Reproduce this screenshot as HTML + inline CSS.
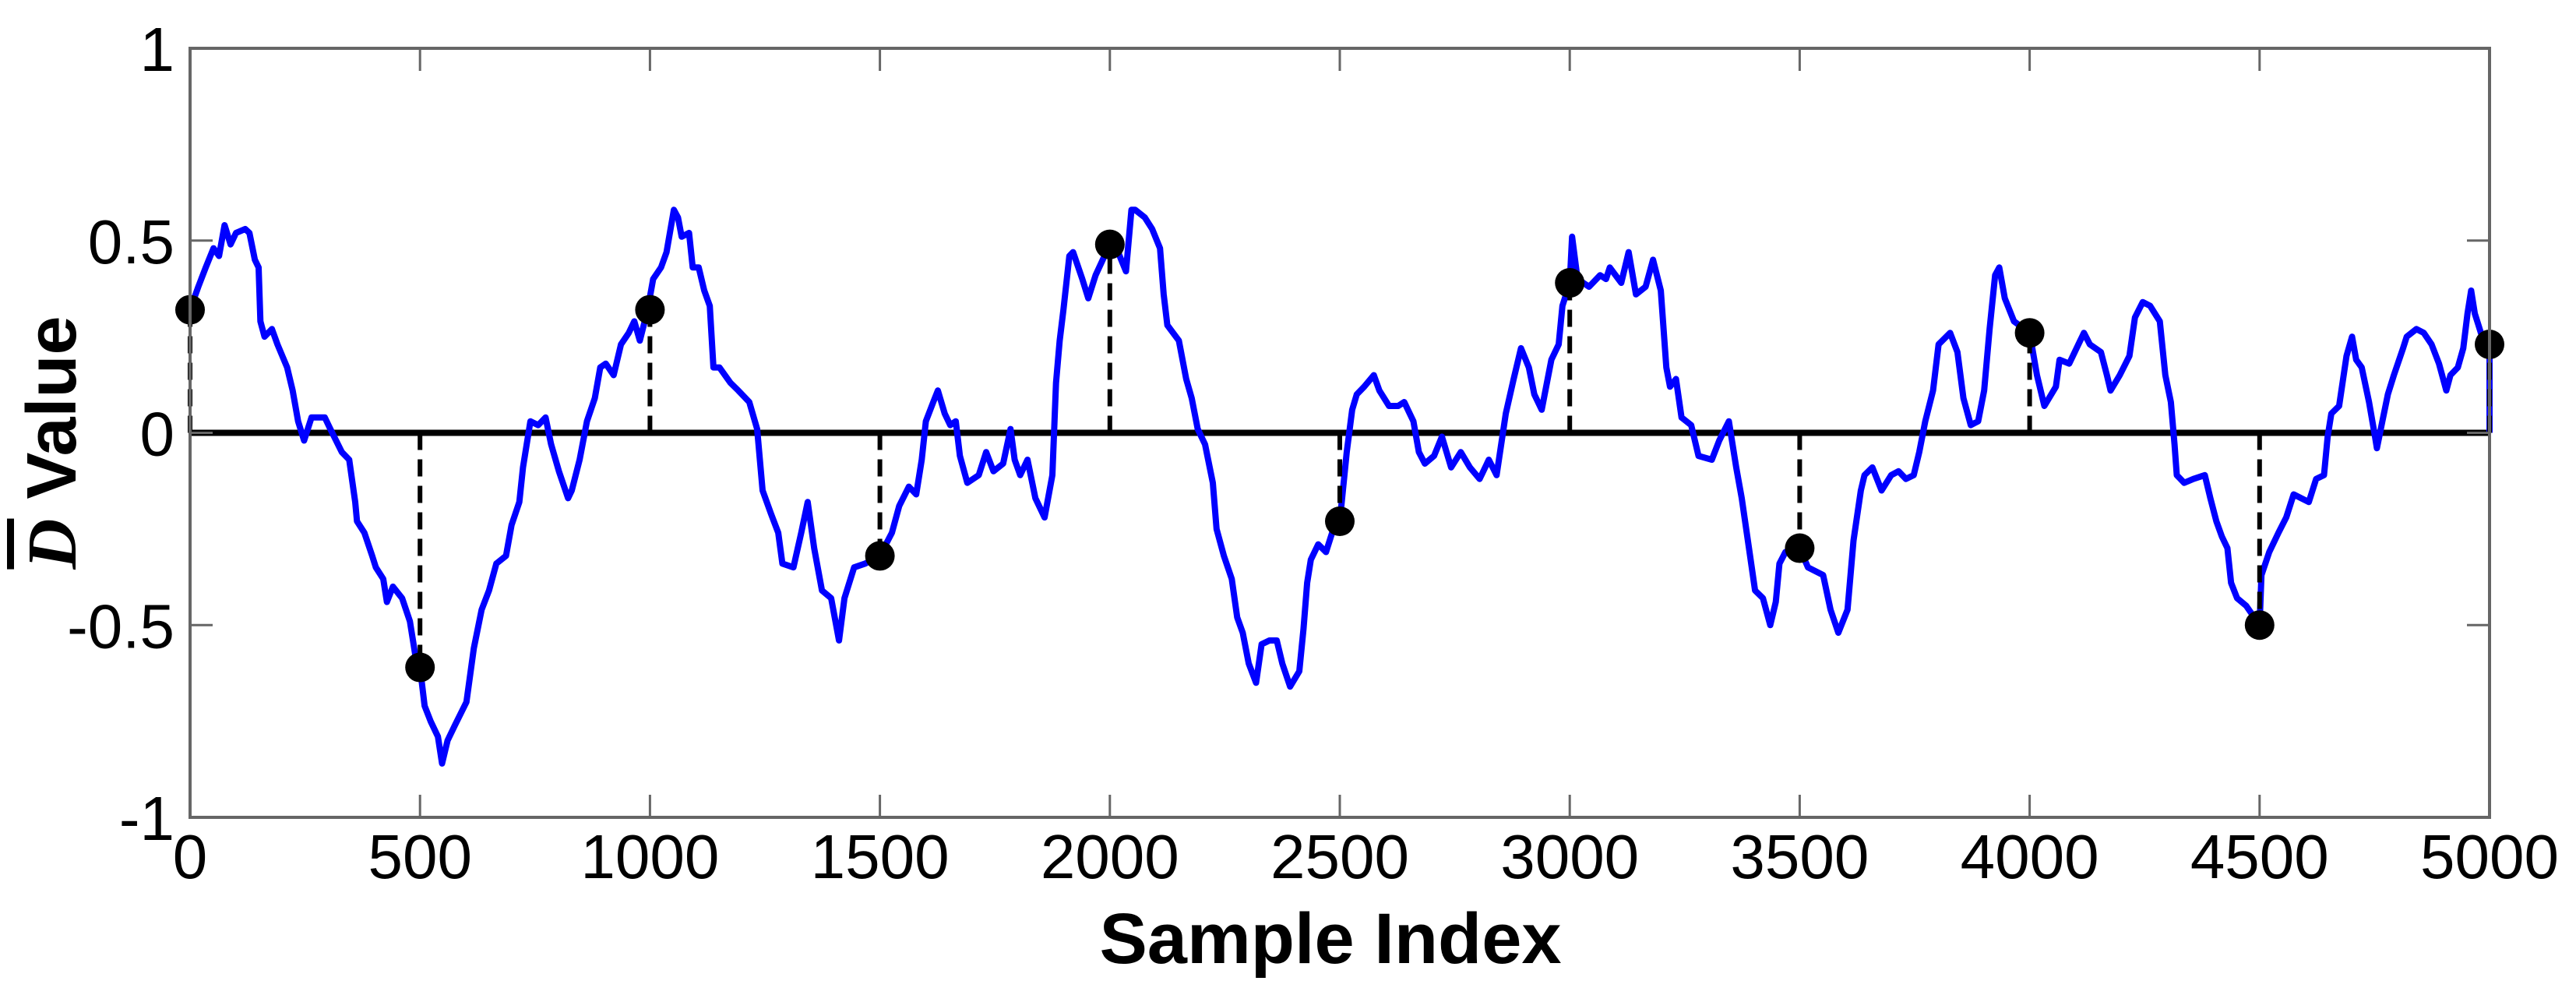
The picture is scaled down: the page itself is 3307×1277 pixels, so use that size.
<!DOCTYPE html>
<html><head><meta charset="utf-8"><style>
html,body{margin:0;padding:0;background:#fff;}
svg{display:block;}
</style></head><body>
<svg id="chart" width="3307" height="1277" viewBox="0 0 3307 1277" xmlns="http://www.w3.org/2000/svg" font-family="Liberation Sans, Arial, sans-serif">
<rect width="3307" height="1277" fill="#fff"/>
<g id="marks"></g>
<rect x="244" y="62" width="2952" height="987" fill="none" stroke="#666" stroke-width="4"/>
<g id="ticks"></g>
<text x="1708" y="1236" font-size="92" font-weight="bold" text-anchor="middle">Sample Index</text>
<text transform="translate(97,568) rotate(-90)" font-size="90" font-weight="bold" text-anchor="middle"><tspan font-family="Liberation Serif, serif" font-style="italic" text-decoration="overline">D</tspan> Value</text>
</svg>
<script>
const sampleIdx = [0,18,34,51,63,75,88,100,120,129,141,149,153,162,178,190,211,223,235,248,264,293,305,330,346,359,363,379,396,404,420,428,441,461,478,490,500,510,523,539,548,560,576,601,617,634,650,666,687,699,716,724,740,757,773,785,802,822,830,847,863,880,892,904,921,937,954,966,978,995,1007,1024,1036,1052,1061,1069,1085,1093,1106,1118,1130,1138,1151,1175,1192,1216,1233,1245,1263,1279,1288,1312,1329,1343,1357,1374,1394,1411,1423,1444,1468,1500,1526,1542,1563,1579,1591,1600,1616,1626,1641,1653,1665,1674,1690,1715,1731,1747,1768,1784,1793,1805,1821,1838,1858,1875,1883,1891,1899,1912,1920,1940,1953,1969,2000,2018,2035,2047,2055,2076,2092,2109,2117,2125,2150,2166,2178,2191,2207,2224,2232,2248,2265,2277,2289,2302,2318,2330,2347,2363,2375,2392,2412,2421,2429,2437,2453,2470,2486,2500,2515,2527,2537,2553,2574,2586,2607,2627,2640,2660,2672,2685,2705,2722,2742,2763,2783,2804,2824,2841,2861,2878,2894,2911,2923,2939,2960,2976,2984,3000,3005,3017,3042,3066,3079,3087,3112,3128,3144,3165,3181,3198,3210,3218,3231,3243,3264,3280,3309,3325,3346,3362,3374,3391,3403,3420,3436,3448,3456,3469,3500,3518,3551,3567,3584,3604,3617,3633,3641,3658,3678,3699,3715,3731,3748,3760,3773,3790,3802,3827,3843,3856,3872,3888,3901,3913,3925,3934,3946,3966,4000,4016,4032,4057,4065,4086,4106,4118,4131,4155,4168,4176,4196,4217,4229,4246,4262,4283,4295,4307,4315,4320,4336,4356,4381,4393,4406,4418,4430,4438,4451,4471,4500,4504,4521,4541,4558,4574,4607,4623,4640,4648,4656,4673,4689,4701,4710,4722,4738,4751,4755,4767,4779,4792,4812,4820,4841,4857,4874,4890,4906,4915,4931,4943,4952,4960,4968,4976,4989,5000,5000];
const dValues = [0.32,0.38,0.43,0.48,0.46,0.54,0.49,0.52,0.53,0.52,0.45,0.43,0.29,0.25,0.27,0.23,0.17,0.11,0.03,-0.02,0.04,0.04,0.01,-0.05,-0.07,-0.18,-0.23,-0.26,-0.32,-0.35,-0.38,-0.44,-0.40,-0.43,-0.49,-0.58,-0.61,-0.71,-0.75,-0.79,-0.86,-0.80,-0.76,-0.70,-0.56,-0.46,-0.41,-0.34,-0.32,-0.24,-0.18,-0.09,0.03,0.02,0.04,-0.03,-0.10,-0.17,-0.15,-0.07,0.03,0.09,0.17,0.18,0.15,0.23,0.26,0.29,0.24,0.32,0.40,0.43,0.47,0.58,0.56,0.51,0.52,0.43,0.43,0.37,0.33,0.17,0.17,0.13,0.11,0.08,0.01,-0.15,-0.21,-0.26,-0.34,-0.35,-0.26,-0.18,-0.30,-0.41,-0.43,-0.54,-0.43,-0.35,-0.34,-0.32,-0.26,-0.19,-0.14,-0.16,-0.07,0.03,0.08,0.11,0.05,0.02,0.03,-0.06,-0.13,-0.11,-0.05,-0.10,-0.08,0.01,-0.07,-0.11,-0.07,-0.17,-0.22,-0.11,0.13,0.24,0.32,0.46,0.47,0.40,0.35,0.41,0.49,0.47,0.42,0.58,0.58,0.56,0.53,0.48,0.36,0.28,0.24,0.14,0.09,0.01,-0.03,-0.13,-0.25,-0.32,-0.38,-0.48,-0.52,-0.60,-0.65,-0.55,-0.54,-0.54,-0.60,-0.66,-0.62,-0.51,-0.39,-0.33,-0.29,-0.31,-0.25,-0.23,-0.05,0.06,0.10,0.12,0.15,0.11,0.07,0.07,0.08,0.03,-0.05,-0.08,-0.06,-0.01,-0.09,-0.05,-0.09,-0.12,-0.07,-0.11,0.05,0.14,0.22,0.17,0.10,0.06,0.19,0.23,0.33,0.39,0.51,0.40,0.38,0.41,0.40,0.43,0.39,0.47,0.36,0.38,0.45,0.37,0.17,0.12,0.14,0.04,0.02,-0.06,-0.07,-0.02,0.03,-0.09,-0.17,-0.31,-0.41,-0.43,-0.50,-0.44,-0.34,-0.31,-0.30,-0.35,-0.37,-0.46,-0.52,-0.46,-0.28,-0.15,-0.11,-0.09,-0.15,-0.11,-0.10,-0.12,-0.11,-0.05,0.03,0.11,0.23,0.26,0.21,0.09,0.02,0.03,0.11,0.27,0.41,0.43,0.35,0.29,0.26,0.15,0.07,0.12,0.19,0.18,0.23,0.26,0.23,0.21,0.15,0.11,0.15,0.20,0.30,0.34,0.33,0.29,0.15,0.08,-0.03,-0.11,-0.13,-0.12,-0.11,-0.17,-0.23,-0.27,-0.30,-0.39,-0.43,-0.45,-0.50,-0.37,-0.31,-0.26,-0.22,-0.16,-0.18,-0.12,-0.11,-0.01,0.05,0.07,0.20,0.25,0.19,0.17,0.08,-0.01,-0.04,0.03,0.10,0.15,0.22,0.25,0.27,0.26,0.23,0.18,0.11,0.15,0.17,0.22,0.31,0.37,0.31,0.28,0.23,0.23,0.00];
const markerIdx = [0,500,1000,1500,2000,2500,3000,3500,4000,4500,5000];
const markerVals = [0.32,-0.61,0.32,-0.32,0.49,-0.23,0.39,-0.30,0.26,-0.50,0.23];
const xTicks = [0,500,1000,1500,2000,2500,3000,3500,4000,4500,5000];
const yTicks = [-1,-0.5,0,0.5,1];
const yTickLabels = ["-1","-0.5","0","0.5","1"];

const X0=244,X1=3196,Y0=1049,Y1=62;
function xs(i){return X0+(i-0)/(5000-0)*(X1-X0);}
function ys(v){return Y0-(v+1)/2*(Y0-Y1);}
const NS="http://www.w3.org/2000/svg";
const marks=document.getElementById('marks');
const ticks=document.getElementById('ticks');
function mk(tag,attrs,parent){const e=document.createElementNS(NS,tag);for(const k in attrs)e.setAttribute(k,attrs[k]);parent.appendChild(e);return e;}

let zl=mk('line',{x1:X0,x2:X1,y1:ys(0),y2:ys(0),stroke:'#000','stroke-width':8},marks);



let d='';
for(let k=0;k<sampleIdx.length;k++){d+=(k?'L':'M')+xs(sampleIdx[k]).toFixed(1)+' '+ys(dValues[k]).toFixed(1);}
let p=mk('path',{d:d,fill:'none',stroke:'#0000ff','stroke-width':8,'stroke-linejoin':'round'},marks);



for(let k=0;k<markerIdx.length;k++){
  const x=xs(markerIdx[k]);
  let s=mk('line',{x1:x,x2:x,y1:ys(0),y2:ys(markerVals[k]),stroke:'#000','stroke-width':6,'stroke-dasharray':'22 12'},marks);
  
  
}
for(let k=0;k<markerIdx.length;k++){
  let c=mk('circle',{cx:xs(markerIdx[k]),cy:ys(markerVals[k]),r:19,fill:'#000'},marks);
  
  
}

xTicks.forEach(t=>{
  const x=xs(t);
  let a=mk('line',{x1:x,x2:x,y1:Y0,y2:Y0-29,stroke:'#666','stroke-width':3},ticks);
  
  
  let b=mk('line',{x1:x,x2:x,y1:Y1,y2:Y1+29,stroke:'#666','stroke-width':3},ticks);
  
  
  let l=mk('text',{x:x,y:1127,'font-size':80,'text-anchor':'middle',fill:'#000'},ticks);
  l.textContent=String(t);
  
  
});
yTicks.forEach((t,k)=>{
  const y=ys(t);
  let a=mk('line',{x1:X0,x2:X0+29,y1:y,y2:y,stroke:'#666','stroke-width':3},ticks);
  
  
  let b=mk('line',{x1:X1,x2:X1-29,y1:y,y2:y,stroke:'#666','stroke-width':3},ticks);
  
  
  let l=mk('text',{x:224,y:y+29,'font-size':80,'text-anchor':'end',fill:'#000'},ticks);
  l.textContent=yTickLabels[k];
  
  
});
</script>
</body></html>
